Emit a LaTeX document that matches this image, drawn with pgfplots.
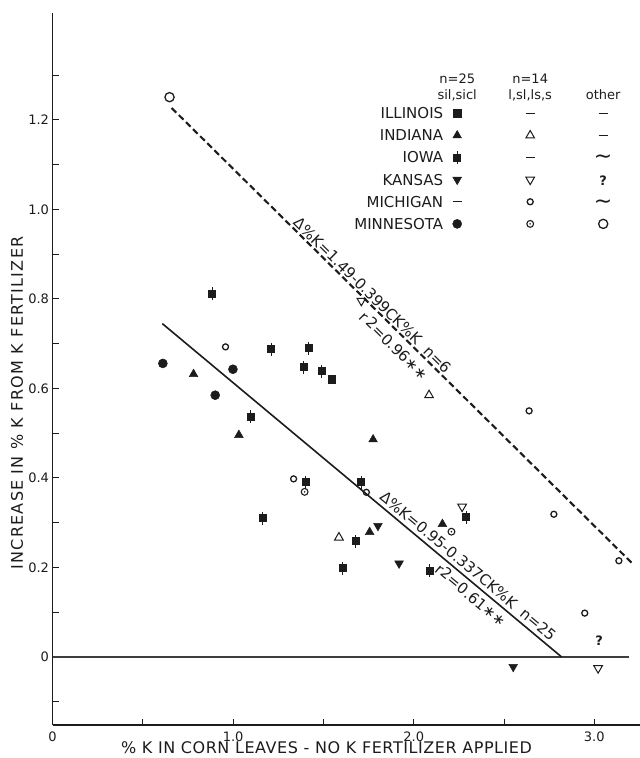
\documentclass[border=0pt]{standalone}
\usepackage{fontspec}
\setmainfont{DejaVu Sans}
\usepackage{pgfplots}
\pgfplotsset{compat=1.18}
\usetikzlibrary{plotmarks}

\definecolor{ink}{HTML}{1C1C1C}

% Iowa: filled square crossed by a short vertical bar
\pgfdeclareplotmark{iowa}{%
  \pgfpathrectangle{\pgfpoint{-3.5pt}{-3.5pt}}{\pgfpoint{7pt}{7pt}}%
  \pgfusepathqfillstroke
  \pgfpathmoveto{\pgfpoint{0pt}{-6.5pt}}%
  \pgfpathlineto{\pgfpoint{0pt}{6.5pt}}%
  \pgfusepathqstroke}
% open circle with a centre dot
\pgfdeclareplotmark{cdot}{%
  \pgfpathcircle{\pgfpointorigin}{3.4pt}\pgfusepathqstroke
  \pgfpathcircle{\pgfpointorigin}{0.9pt}\pgfusepathqfill}

% marker styles shared by the plot and the key
\tikzset{
  mIll/.style={mark=square*, mark size=3.7pt, line width=0.5pt},
  mInd/.style={mark=triangle*, mark size=5pt, line width=0.5pt},
  mIndO/.style={mark=triangle, mark size=5pt, line width=1pt},
  mIowa/.style={mark=iowa, line width=1pt},
  mKan/.style={mark=triangle*, mark size=5pt, mark options={rotate=180}, line width=0.5pt},
  mKanO/.style={mark=triangle, mark size=5pt, mark options={rotate=180}, line width=1pt},
  mMich/.style={mark=o, mark size=3pt, line width=1.3pt},
  mMin/.style={mark=*, mark size=4.5pt, line width=0.5pt},
  mMinD/.style={mark=cdot, line width=1.1pt},
  mMinO/.style={mark=o, mark size=4.6pt, line width=1.3pt},
}

\newcommand{\lmk}[1]{\tikz[baseline={(0pt,-5.4pt)}]\draw[ink, fill=ink, #1] plot[only marks] coordinates {(0pt,0pt)};}
\newcommand{\kdash}{\rule[4.8pt]{9pt}{1.1pt}}
\newcommand{\kwave}{{\fontsize{22}{22}\selectfont\raisebox{-1pt}{\textasciitilde}}}
\newcommand{\hdr}[1]{{\fontsize{13}{15}\selectfont #1}}
\newcommand{\krow}[4]{\hbox{\makebox[100pt][r]{#1}\hspace{4pt}\makebox[20pt]{#2}\makebox[126pt]{#3}\makebox[20pt]{#4}}}
\newcommand{\lfont}{\fontsize{15}{18}\selectfont}

\begin{document}
\begin{tikzpicture}
\useasboundingbox (0,0) rectangle (640pt,758pt);
\begin{axis}[
  at={(52.5pt,33pt)}, anchor=south west,
  scale only axis, width=587.5pt, height=712.4pt,
  xmin=0, xmax=3.253, ymin=-0.152, ymax=1.44,
  axis lines=left, axis line style={-, line width=1.3pt, ink},
  clip=false,
  xtick={0,1,2,3}, xticklabels={0,1.0,2.0,3.0},
  minor xtick={0.5,1.5,2.5},
  ytick={0,0.2,0.4,0.6,0.8,1.0,1.2},
  yticklabels={0,0.2,0.4,0.6,0.8,1.0,1.2},
  minor ytick={-0.1,0.1,0.3,0.5,0.7,0.9,1.1,1.3},
  tick align=inside, major tick length=6pt, minor tick length=6pt,
  tick style={line width=1pt, ink},
  ticklabel style={font=\fontsize{13}{15}\selectfont, text=ink},
  xticklabel style={yshift=-3pt},
  xlabel={\% K IN CORN LEAVES - NO K FERTILIZER APPLIED},
  ylabel={INCREASE IN \% K FROM K FERTILIZER},
  xlabel style={at={(axis description cs:0.4664,-0.0312)}, anchor=center, inner sep=0pt,
    font=\fontsize{16}{18}\selectfont\addfontfeatures{LetterSpace=3.5}, text=ink},
  ylabel style={at={(axis description cs:-0.0604,0.452)}, anchor=center,
    font=\fontsize{16}{18}\selectfont\addfontfeatures{LetterSpace=8}, text=ink},
]

% zero line
\addplot[ink!85, line width=1.1pt] coordinates {(0,0) (3.19,0)};

% regression, silt loam / silty clay loam soils (n=25)
\addplot[ink, line width=1.6pt] coordinates {(0.608,0.745) (2.819,0)}
  node[pos=0.75, sloped, above=3.5pt, inner sep=0pt, font=\lfont, text=ink]
    {Δ\%K=0.95-0.337CK\%K\ \ n=25}
  node[pos=0.79, sloped, below=3.5pt, inner sep=0pt, font=\lfont, text=ink]
    {r\raisebox{1pt}{2}=0.61∗∗};

% regression, other soils (n=6)
\addplot[ink, line width=2.1pt, dash pattern=on 6.5pt off 3.5pt]
  coordinates {(0.66,1.2267) (3.215,0.2072)}
  node[pos=0.423, sloped, above=1.2pt, inner sep=0pt, font=\lfont, text=ink]
    {Δ\%K=1.49-0.399CK\%K\ \ n=6}
  node[pos=0.501, sloped, below=5.5pt, inner sep=0pt, font=\lfont, text=ink]
    {r\,\raisebox{1pt}{2}=0.96∗∗};

% sil, sicl soils
\addplot[only marks, ink, mMin] coordinates {(0.611,0.656) (0.901,0.585) (0.999,0.643)};
\addplot[only marks, ink, mInd] coordinates {(0.781,0.632) (1.032,0.496) (1.775,0.486) (1.756,0.279) (2.159,0.297)};
\addplot[only marks, ink, mKan] coordinates {(1.802,0.293) (1.919,0.209) (2.551,-0.022)};
\addplot[only marks, ink, mIll] coordinates {(1.546,0.621)};
\addplot[only marks, ink, mIowa] coordinates {
  (0.885,0.812) (1.210,0.688) (1.420,0.690) (1.392,0.647) (1.492,0.638)
  (1.097,0.537) (1.402,0.390) (1.710,0.390) (1.165,0.310) (1.679,0.259)
  (1.608,0.198) (2.089,0.193) (2.292,0.312)};

% l, sl, ls, s soils
\addplot[only marks, ink, mIndO] coordinates {(2.085,0.585) (1.586,0.267)};
\addplot[only marks, ink, mKanO] coordinates {(1.710,0.796) (2.268,0.336) (3.021,-0.025)};
\addplot[only marks, ink, mMich] coordinates {(0.958,0.693) (1.335,0.398) (1.738,0.368) (2.639,0.550) (2.776,0.319) (2.947,0.098) (3.136,0.215)};
\addplot[only marks, ink, mMinD] coordinates {(1.396,0.369) (2.209,0.280)};

% other soils
\addplot[only marks, ink, mMinO] coordinates {(0.648,1.251)};
\addplot[only marks, ink, mark=text, text mark={?}, text mark as node=true,
  text mark style={font=\fontsize{13}{15}\selectfont\bfseries, text=ink, inner sep=0pt}]
  coordinates {(3.027,0.036)};
\end{axis}

% key: states by soil texture group
\node[anchor=base west, inner sep=0pt, text=ink, font=\lfont] at (343pt,674pt) {\vtop{\lineskiplimit=-\maxdimen
  \krow{}{\hdr{n=25}}{\hdr{n=14}}{}
  \baselineskip=16pt
  \krow{}{\hdr{sil,sicl}}{\hdr{l,sl,ls,s}}{\hdr{other}}
  \baselineskip=18.8pt
  \krow{ILLINOIS}{\lmk{mIll}}{\kdash}{\kdash}
  \baselineskip=22.1pt
  \krow{INDIANA}{\lmk{mInd}}{\lmk{mIndO}}{\kdash}
  \krow{IOWA}{\lmk{mIowa}}{\kdash}{\kwave}
  \krow{KANSAS}{\lmk{mKan}}{\lmk{mKanO}}{\hdr{\bfseries ?}}
  \krow{MICHIGAN}{\kdash}{\lmk{mMich}}{\kwave}
  \krow{MINNESOTA}{\lmk{mMin}}{\lmk{mMinD}}{\lmk{mMinO}}
}};
\end{tikzpicture}
\end{document}
